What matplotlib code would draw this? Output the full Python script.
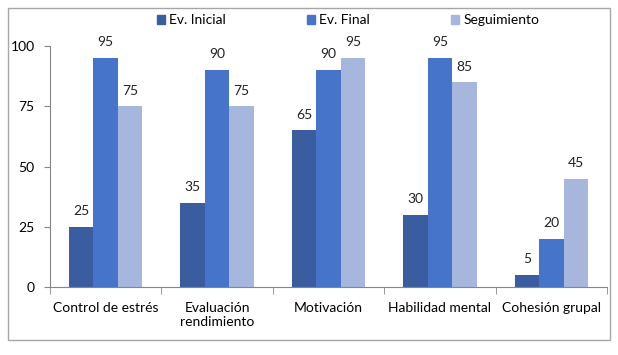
import matplotlib.pyplot as plt
import numpy as np
from matplotlib.patches import Rectangle

plt.rcParams['font.family'] = ['Lato', 'DejaVu Sans']

categories = ['Control de estrés', 'Evaluación\nrendimiento', 'Motivación',
              'Habilidad mental', 'Cohesión grupal']
ev_inicial = [25, 35, 65, 30, 5]
ev_final = [95, 90, 90, 95, 20]
seguimiento = [75, 75, 95, 85, 45]

series = [('Ev. Inicial', ev_inicial, '#3A5DA0'),
          ('Ev. Final', ev_final, '#4674CA'),
          ('Seguimiento', seguimiento, '#A7B6DC')]

fig = plt.figure(figsize=(6.18, 3.55), dpi=100)
fig.patches.append(Rectangle((8 / 618, 15 / 355), 602 / 618, 332 / 355,
                             transform=fig.transFigure, fill=False,
                             edgecolor='#A6A6A6', linewidth=1))
ax = fig.add_axes([50 / 618, 68 / 355, 557 / 618, 241 / 355])

x = np.arange(len(categories))
w = 0.22
for i, (name, vals, color) in enumerate(series):
    pos = x + (i - 1) * w
    ax.bar(pos, vals, width=w, color=color, label=name)
    for p, v in zip(pos, vals):
        ax.text(p, v + 4, str(v), ha='center', va='bottom', fontsize=10,
                color='#222222')

ax.set_xlim(-0.5, len(categories) - 0.5)
ax.set_ylim(0, 100)
ax.set_yticks([0, 25, 50, 75, 100])
ax.tick_params(axis='y', length=4, color='#868686', labelsize=10, pad=7)
ax.set_xticks(np.arange(len(categories) + 1) - 0.5, minor=True)
ax.set_xticks(x)
ax.set_xticklabels(categories, fontsize=10)
ax.tick_params(axis='x', which='major', length=0, pad=11)
ax.tick_params(axis='x', which='minor', length=5, color='#868686')
for s in ['top', 'right']:
    ax.spines[s].set_visible(False)
ax.spines['left'].set_color('#868686')
ax.spines['bottom'].set_color('#868686')

handles = [Rectangle((0, 0), 1, 1, color=c) for _, _, c in series]
fig.legend(handles, [n for n, _, _ in series], loc='center',
           bbox_to_anchor=(348 / 618, 1 - 20 / 355), ncol=3, frameon=False,
           fontsize=10, handlelength=0.6, handleheight=0.6,
           handletextpad=0.3, columnspacing=5.8)

fig.savefig('out.png', dpi=100)
